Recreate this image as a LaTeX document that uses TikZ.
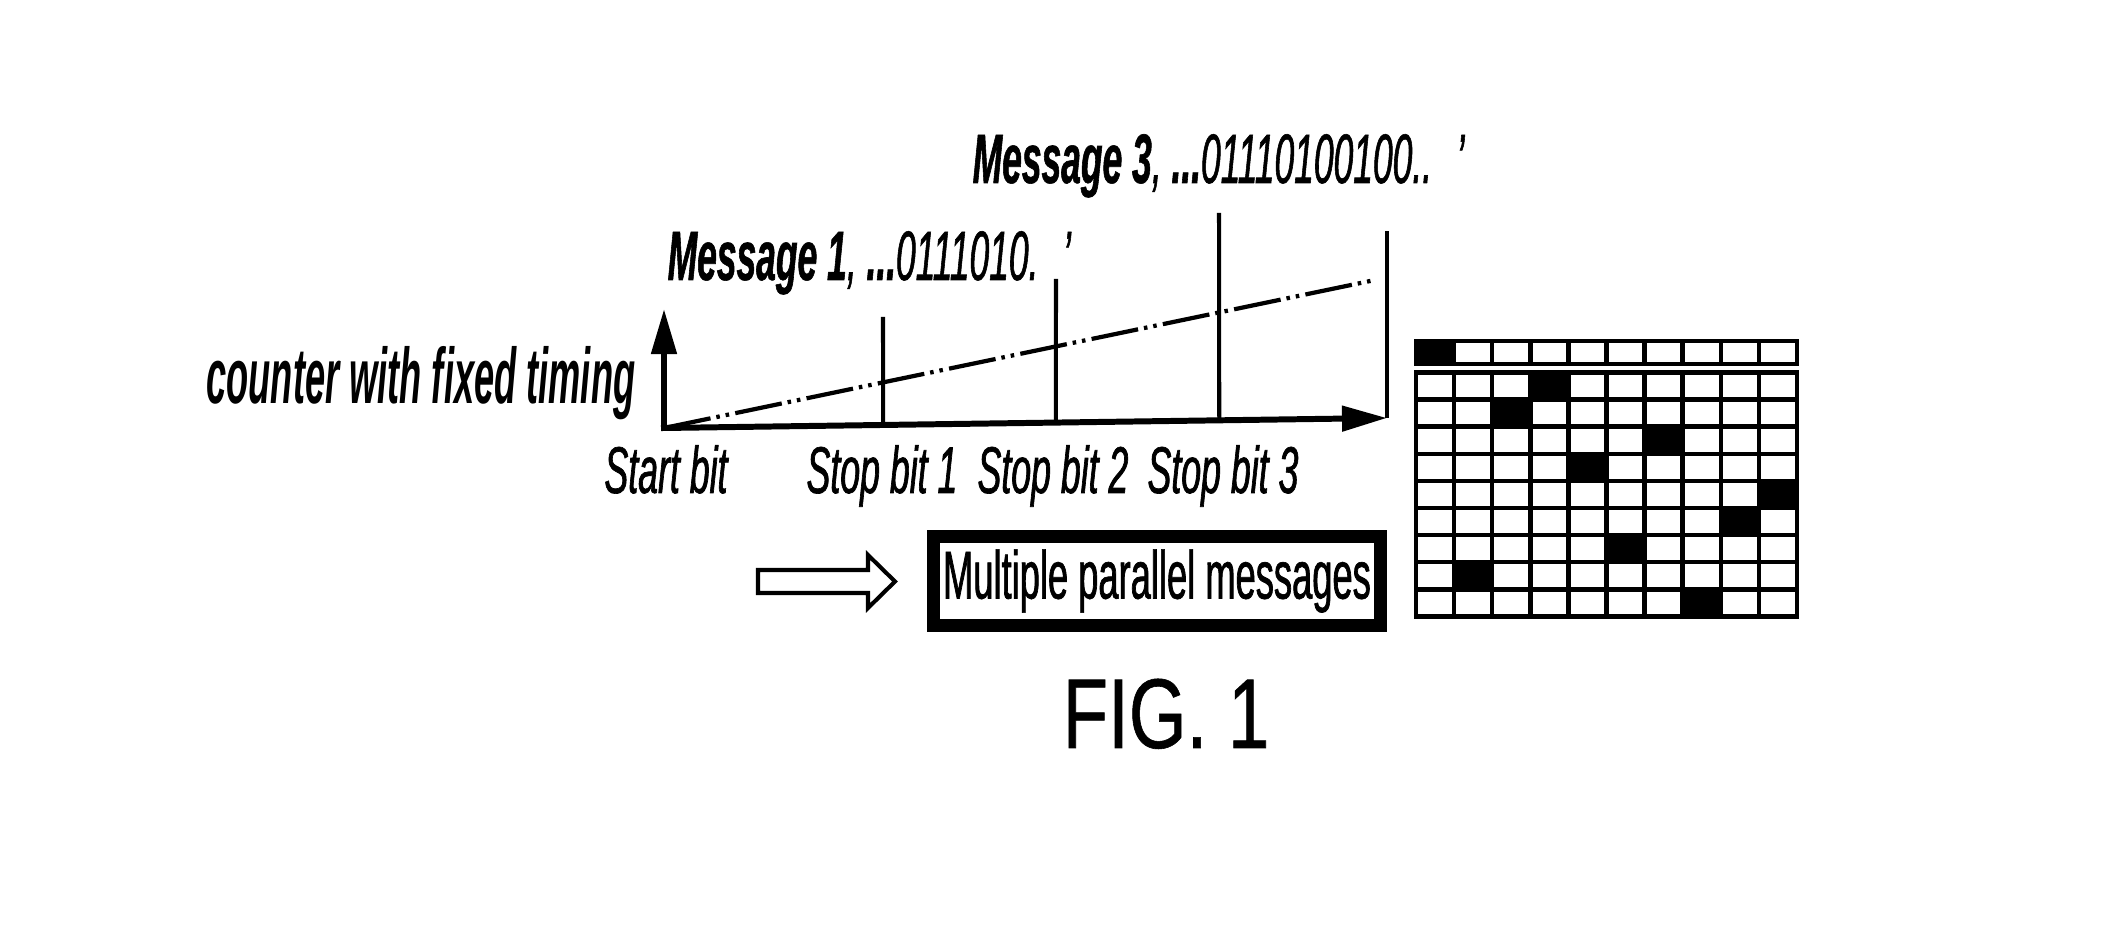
\documentclass[tikz,border=0pt]{standalone}
\usepackage{fontspec}
\setmainfont{Liberation Sans}
\newfontfamily\axfont[FakeStretch=0.54, FakeBold=1]{Liberation Sans}
\newfontfamily\msgfont[FakeStretch=0.506, FakeBold=0.8]{Liberation Sans}
\newfontfamily\cntfont[FakeStretch=0.46]{Liberation Sans}
\newfontfamily\boxfont[FakeStretch=0.535, FakeBold=1]{Liberation Sans}
\newfontfamily\figfont[FakeStretch=0.75, FakeBold=0.6]{Liberation Sans}
\usetikzlibrary{arrows.meta, calc}

\begin{document}
\begin{tikzpicture}[x=0.01cm, y=-0.01cm]
  \tikzstyle{coord}=[inner sep=0pt, outer sep=0pt]
  \tikzstyle{axis}=[line width=1.7pt, line cap=rect, -{Triangle[length=12.8pt, width=7pt]}]
  \tikzstyle{stopline}=[line width=1.15pt]
  \tikzstyle{ramp}=[line width=1.2pt, dash pattern=on 13.5pt off 1.7pt on 1pt off 1.7pt on 1pt off 1.8pt]
  \tikzstyle{axlbl}=[inner sep=0pt, anchor=base, font=\fontsize{18.8pt}{21pt}\selectfont\axfont\itshape]
  \tikzstyle{msglbl}=[inner sep=0pt, anchor=base west, font=\fontsize{19.9pt}{22pt}\selectfont\msgfont\itshape]
  \tikzstyle{cntlbl}=[inner sep=0pt, anchor=base east, font=\fontsize{22.4pt}{25pt}\selectfont\cntfont\bfseries\itshape]
  \tikzstyle{msgbox}=[draw, line width=3.7pt, minimum width=4.47cm, minimum height=0.89cm, inner sep=0pt,
    font=\fontsize{19.3pt}{22pt}\selectfont\boxfont]
  \tikzstyle{grid}=[line width=1.3pt, line cap=rect, line join=miter]

  \useasboundingbox (0,0) rectangle (2120,937);

  % axes
  \coordinate (origin) at (664,428);
  \coordinate (yend) at (664,309);
  \coordinate (xend) at (1387,418);
  \draw[axis] (origin) -- (yend);
  \draw[axis] (origin) -- (xend);

  % stop bit markers
  \coordinate (stop1b) at ($(origin)!0.303!(xend)$);
  \coordinate (stop2b) at ($(origin)!0.542!(xend)$);
  \coordinate (stop3b) at ($(origin)!0.768!(xend)$);
  \coordinate (stop1t) at (883,317);
  \coordinate (stop2t) at (1056,279);
  \coordinate (stop3t) at (1219,213);
  \coordinate (endt) at (1387,231);
  \draw[stopline] (stop1b) -- (stop1t);
  \draw[stopline] (stop2b) -- (stop2t);
  \draw[stopline] (stop3b) -- (stop3t);
  \draw[stopline] (xend) -- (endt);

  % counter ramp
  \coordinate (rampend) at (1375,280);
  \draw[ramp] (origin) -- (rampend);

  % labels
  \node[axlbl] (startlbl) at (666,493) {Start bit};
  \node[axlbl] (stop1lbl) at (882,493) {Stop bit 1};
  \node[axlbl] (stop2lbl) at (1053,493) {Stop bit 2};
  \node[axlbl] (stop3lbl) at (1223,493) {Stop bit 3};
  \node[cntlbl] (cntlbl) at (636,404) {counter with fixed timing};
  \node[msglbl] (msg1) at (667,280) {\textbf{Message 1}, \textbf{...}0111010.\hspace{7pt}’};
  \node[msglbl] (msg3) at (972,183) {\textbf{Message 3}, \textbf{...}01110100100..\hspace{7pt}’};

  % parallel messages
  \node[msgbox] (multi) at (1157,581) {Multiple parallel messages};
  \coordinate (harrow) at (758,581.5);
  \draw[line width=1.15pt, line join=miter] ($(harrow)+(0,-11.5)$) -- ++(110,0) -- ++(0,-15)
    -- ++(27,26.5) -- ++(-27,26.5) -- ++(0,-15) -- ++(-110,0) -- cycle;

  % message matrix
  \begin{scope}[shift={(1416,341)}]
    \fill (0,0) rectangle (38.1,23);
    \draw[grid] (0,0) rectangle (381,23);
    \foreach \c in {1,...,9} {
      \draw[grid] (38.1*\c,0) -- (38.1*\c,23);
    }
  \end{scope}
  \begin{scope}[shift={(1416,372.5)}]
    \foreach \r/\c in {1/4,2/3,3/7,4/5,5/10,6/9,7/6,8/2,9/8} {
      \fill (38.1*\c-38.1,27.1*\r-27.1) rectangle (38.1*\c,27.1*\r);
    }
    \draw[grid] (0,0) rectangle (381,243.9);
    \foreach \c in {1,...,9} {
      \draw[grid] (38.1*\c,0) -- (38.1*\c,243.9);
    }
    \foreach \r in {1,...,8} {
      \draw[grid] (0,27.1*\r) -- (381,27.1*\r);
    }
  \end{scope}

  \node[inner sep=0pt, anchor=base west, font=\fontsize{28.2pt}{32pt}\selectfont\figfont] (fig) at (1062,748) {FIG. 1};
\end{tikzpicture}
\end{document}
